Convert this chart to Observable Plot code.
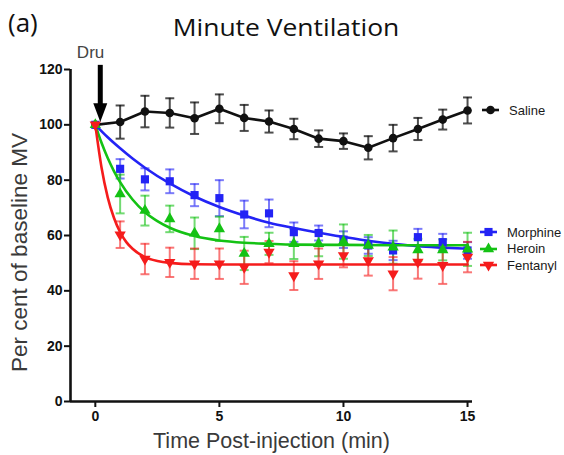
<!DOCTYPE html>
<html>
<head>
<meta charset="utf-8">
<script src="https://cdn.jsdelivr.net/npm/d3@7"></script>
<script src="https://cdn.jsdelivr.net/npm/@observablehq/plot@0.6"></script>
<style>
  html, body { margin: 0; padding: 0; background: #fff; }
  #wrap { position: relative; width: 564px; height: 455px; overflow: hidden; }
  #header { position: relative; height: 48px; }
  #panel { position: absolute; left: 8px; top: 4px; font: 26px "Open Sans", sans-serif; color: #111; }
  #title { position: absolute; left: 0; width: 572px; top: 11px; text-align: center; font: 23px "Open Sans", sans-serif; color: #111; transform: scaleX(1.15); transform-origin: 286px 0; }
  .leg { position: absolute; font: 13px "Liberation Sans", Arial, sans-serif; color: #1a1a1a; display: flex; align-items: center; white-space: nowrap; }
  .leg svg { margin-right: 9px; }
  #chart svg text { font-family: "Liberation Sans", Arial, sans-serif; }
</style>
</head>
<body>
<div id="wrap">
  <div id="header"><div id="panel">(a)</div><div id="title">Minute Ventilation</div></div>
  <div id="chart"></div>
  <div id="legend"></div>
</div>
<script>
// ---- data ----
const time = [0, 1, 2, 3, 4, 5, 6, 7, 8, 9, 10, 11, 12, 13, 14, 15];

const salineMean   = [100, 101, 104.8, 104.3, 102.4, 105.8, 102.5, 101.2, 98.5, 95, 94.1, 91.7, 95.2, 98.5, 101.9, 105.2];
const salineSem    = [0, 6, 5.7, 5.3, 5.7, 5.2, 4.7, 4, 3.7, 3, 2.8, 4.2, 4.8, 4, 3.6, 4.7];

const morphineMean = [100, 84.1, 80.3, 79.6, 74.6, 73.5, 67.6, 68, 61.2, 60.9, 58.5, 56.4, 54.6, 59.4, 57.6, 54.6];
const morphineSem  = [0, 3.5, 4, 4.3, 4, 6.5, 5, 5, 3.5, 2.7, 3, 3, 3.5, 3, 3, 3];

const heroinMean   = [100, 75, 69, 66, 60.8, 62.4, 53.5, 57, 57, 57, 57.8, 56.4, 55.8, 54.8, 54.8, 55];
const heroinSem    = [0, 7, 5.4, 4.8, 5.7, 4.4, 6, 4, 5.5, 4.5, 6.2, 3.8, 6, 4, 3.8, 6];

const fentanylMean = [100, 60.3, 51.5, 50.3, 49.8, 49.8, 48.5, 54, 45.5, 49.8, 52.8, 51, 46.2, 50.4, 49.2, 52.2];
const fentanylSem  = [0, 4.8, 5.5, 5.3, 5.5, 5.5, 6, 4, 5.2, 5.5, 4.3, 5.5, 6, 6, 6.7, 5.5];

// fitted curves
const morphineFitT = [0, 0.5, 1, 1.5, 2, 3, 4, 5, 6, 7, 8, 9, 10, 11, 12, 13, 14, 15];
const morphineFit  = [100, 95.5, 91.5, 87.8, 84.5, 78.8, 74.1, 70.3, 67.2, 64.6, 62.7, 61, 59.5, 58.1, 57, 56.1, 55.6, 55.2];
const heroinFitT   = [0, 0.25, 0.5, 0.75, 1, 1.5, 2, 2.5, 3, 4, 5, 6, 7, 8, 10, 12, 15];
const heroinFit    = [100, 93.5, 88, 83.3, 79.3, 73, 68.4, 65.2, 62.8, 59.8, 58.2, 57.4, 57, 56.7, 56.6, 56.5, 56.5];
const fentanylFitT = [0, 0.25, 0.5, 0.75, 1, 1.25, 1.5, 2, 2.5, 3, 4, 6, 10, 15];
const fentanylFit  = [100, 84.6, 73.8, 66.4, 61.2, 57.6, 55.2, 52.2, 50.8, 50.1, 49.6, 49.5, 49.5, 49.5];

const xTicks = [0, 5, 10, 15];
const yTicks = [0, 20, 40, 60, 80, 100, 120];
const xDomain = [-1, 15.2];
const yDomain = [0, 120];

const drugLabel = "Dru";
const drugTime = 0.2;
const drugArrowTop = 121.5;
const drugArrowTip = 101;

const xLabel = "Time Post-injection (min)";
const yLabel = "Per cent of baseline MV";

const FONT = "'Liberation Sans', Arial, sans-serif";

// ---- custom symbols ----
const triangleDown = {
  draw(ctx, size) {
    const s = Math.sqrt(4 * size / Math.sqrt(3));
    const h = s * Math.sqrt(3) / 2;
    ctx.moveTo(-s / 2, -h / 3);
    ctx.lineTo(s / 2, -h / 3);
    ctx.lineTo(0, 2 * h / 3);
    ctx.closePath();
  }
};
const capSymbol = {
  draw(ctx, size) {
    const r = Math.sqrt(size / Math.PI);
    ctx.moveTo(-r, 0);
    ctx.lineTo(r, 0);
  }
};
const arrowHead = {
  draw(ctx, size) {
    const r = Math.sqrt(size / Math.PI);
    ctx.moveTo(-r, -r * 2.7);
    ctx.lineTo(r, -r * 2.7);
    ctx.lineTo(0, 0);
    ctx.closePath();
  }
};

const series = [
  {name: "Saline",   color: "#111111", mean: salineMean,   sem: salineSem,   symbol: d3.symbolCircle,   r: 4.3},
  {name: "Morphine", color: "#2323f5", mean: morphineMean, sem: morphineSem, symbol: d3.symbolSquare,   r: 4.6},
  {name: "Heroin",   color: "#14c214", mean: heroinMean,   sem: heroinSem,   symbol: d3.symbolTriangle, r: 4.2},
  {name: "Fentanyl", color: "#f51c1c", mean: fentanylMean, sem: fentanylSem, symbol: triangleDown,      r: 4.2}
];
const fits = {
  Morphine: morphineFitT.map((t, i) => ({t, v: morphineFit[i]})),
  Heroin:   heroinFitT.map((t, i) => ({t, v: heroinFit[i]})),
  Fentanyl: fentanylFitT.map((t, i) => ({t, v: fentanylFit[i]}))
};

const marks = [];
// error bars first
for (const s of series) {
  const rows = time.map((t, i) => ({t, m: s.mean[i], e: s.sem[i]})).filter(d => d.e > 0);
  const op = s.name === "Saline" ? 0.75 : 0.6;
  marks.push(Plot.ruleX(rows, {x: "t", y1: d => d.m - d.e, y2: d => d.m + d.e, stroke: s.color, strokeWidth: 2, strokeOpacity: op}));
  marks.push(Plot.dot(rows, {x: "t", y: d => d.m + d.e, symbol: capSymbol, r: 4.5, stroke: s.color, fill: "none", strokeWidth: 2, strokeOpacity: op}));
  marks.push(Plot.dot(rows, {x: "t", y: d => d.m - d.e, symbol: capSymbol, r: 4.5, stroke: s.color, fill: "none", strokeWidth: 2, strokeOpacity: op}));
}
// lines / fits
for (const s of series) {
  const rows = time.map((t, i) => ({t, m: s.mean[i]}));
  if (s.name === "Saline") {
    marks.push(Plot.line(rows, {x: "t", y: "m", stroke: s.color, strokeWidth: 2.6}));
  } else {
    marks.push(Plot.line(fits[s.name], {x: "t", y: "v", stroke: s.color, strokeWidth: 2.6, curve: "monotone-x"}));
  }
}
// markers
for (const s of series) {
  const rows = time.map((t, i) => ({t, m: s.mean[i]}));
  marks.push(Plot.dot(rows, {x: "t", y: "m", symbol: s.symbol, r: s.r, fill: s.color, stroke: "none"}));
}

// axes
marks.push(Plot.ruleX([xDomain[0]], {y1: yDomain[0], y2: yDomain[1], strokeWidth: 2.6, stroke: "#111"}));
marks.push(Plot.ruleY([yDomain[0]], {x1: xDomain[0], x2: xDomain[1], strokeWidth: 2.6, stroke: "#111"}));
marks.push(Plot.axisY({ticks: yTicks, tickSize: 6, tickPadding: 2, strokeWidth: 2, stroke: "#111", fill: "#111", fontSize: 14, fontWeight: "bold", fontFamily: FONT, label: null, tickFormat: "d"}));
marks.push(Plot.axisX({ticks: xTicks, tickSize: 6, tickPadding: 4, strokeWidth: 2, stroke: "#111", fill: "#111", fontSize: 14, fontWeight: "bold", fontFamily: FONT, label: null, tickFormat: "d"}));
marks.push(Plot.text([yLabel], {frameAnchor: "left", rotate: -90, dx: -51, dy: 17, textAnchor: "middle", lineAnchor: "middle", text: d => d, fontSize: 22.5, fill: "#3a3a3a", fontFamily: FONT}));
marks.push(Plot.text([xLabel], {frameAnchor: "bottom", dy: 40, textAnchor: "middle", lineAnchor: "middle", text: d => d, fontSize: 21.5, fill: "#3a3a3a", fontFamily: FONT}));

// drug arrow + label
marks.push(Plot.ruleX([drugTime], {y1: drugArrowTip + 5, y2: drugArrowTop, stroke: "#000", strokeWidth: 5}));
marks.push(Plot.dot([drugTime], {x: d => d, y: drugArrowTip, symbol: arrowHead, r: 7, fill: "#000", stroke: "none"}));
marks.push(Plot.text([drugLabel], {x: drugTime, y: 126.2, text: d => d, textAnchor: "end", dx: 4, fontSize: 17, fill: "#444", fontFamily: "'Open Sans', sans-serif"}));

const chart = Plot.plot({
  width: 564,
  height: 407,
  marginTop: 21,
  marginBottom: 54,
  marginLeft: 70,
  marginRight: 92,
  x: {domain: xDomain},
  y: {domain: yDomain},
  style: {fontFamily: FONT, background: "white", overflow: "visible"},
  marks
});
document.getElementById("chart").appendChild(chart);

// ---- legend ----
const legendPos = {Saline: {top: 110, left: 481}, Morphine: {top: 232, left: 479}, Heroin: {top: 248.5, left: 479}, Fentanyl: {top: 265, left: 479}};
const legend = document.getElementById("legend");
for (const s of series) {
  const p = legendPos[s.name];
  const div = document.createElement("div");
  div.className = "leg";
  div.style.left = p.left + "px";
  div.style.top = (p.top - 8) + "px";
  div.style.height = "16px";
  const sym = d3.symbol(s.symbol, s.r * s.r * Math.PI)();
  div.innerHTML = `<svg width="19" height="16" viewBox="0 0 19 16"><line x1="1" x2="18" y1="8" y2="8" stroke="${s.color}" stroke-width="2.6"/><path d="${sym}" transform="translate(9.5,8)" fill="${s.color}"/></svg><span>${s.name}</span>`;
  legend.appendChild(div);
}
</script>
</body>
</html>
